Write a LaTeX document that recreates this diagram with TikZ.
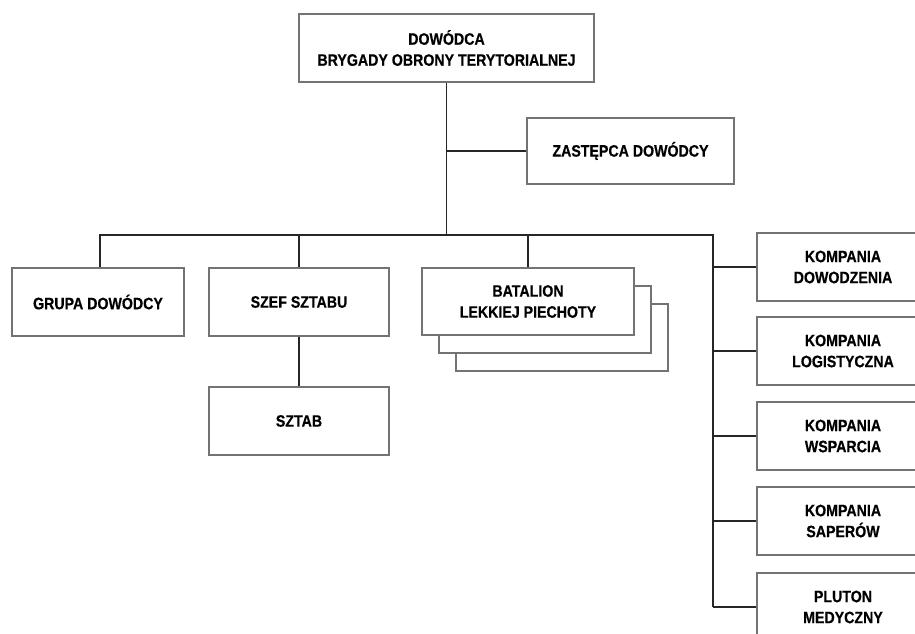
\documentclass[tikz,border=0pt]{standalone}
\usepackage{fontspec}
\setmainfont{Liberation Sans}[FakeStretch=0.86, BoldFeatures={FakeBold=0.5}]
\begin{document}
\begin{tikzpicture}[x=1pt,y=-1pt,
  unit/.style={draw=black!55, line width=1.3pt, fill=white, align=center,
    font=\fontsize{16.5}{21}\selectfont\bfseries, inner sep=0pt,
    minimum height=68, text=black},
  link/.style={draw=black!85, line width=1.6pt}]
\useasboundingbox (0,0) rectangle (915,634);
\clip (0,0) rectangle (915,634);

% command and deputy
\node[unit, minimum width=295] (top) at (446.5,48) {DOWÓDCA\\BRYGADY OBRONY TERYTORIALNEJ};
\node[unit, minimum width=207, minimum height=66] (zast) at (630.5,151) {ZASTĘPCA DOWÓDCY};

% second level
\node[unit, minimum width=172] (grupa) at (98,302) {GRUPA DOWÓDCY};
\node[unit, minimum width=180] (szef) at (299,302) {SZEF SZTABU};
\node[unit, minimum width=180] (sztab) at (299,421) {SZTAB};

% stacked battalions
\node[unit, minimum width=212, minimum height=67] (bat3) at (562,337.5) {};
\node[unit, minimum width=212, minimum height=67] (bat2) at (545,319.5) {};
\node[unit, minimum width=212, minimum height=67] (bat) at (528,301.5) {BATALION\\LEKKIEJ PIECHOTY};

% companies column
\node[unit, minimum width=172] (k1) at (843,267) {KOMPANIA\\DOWODZENIA};
\node[unit, minimum width=172] (k2) at (843,351) {KOMPANIA\\LOGISTYCZNA};
\node[unit, minimum width=172] (k3) at (843,436) {KOMPANIA\\WSPARCIA};
\node[unit, minimum width=172] (k4) at (843,521) {KOMPANIA\\SAPERÓW};
\node[unit, minimum width=172] (k5) at (843,607) {PLUTON\\MEDYCZNY};

% connectors
\coordinate (busR) at (713,235);
\draw[link] (top.south) -- (top.south |- busR);
\draw[link] (zast.west) -- (zast.west -| top.south);
\draw[link] ([xshift=2pt]grupa.north) |- (busR) -- (busR |- k5.west);
\draw[link] (szef.north) -- (szef.north |- busR);
\draw[link] (bat.north) -- (bat.north |- busR);
\draw[link] (szef.south) -- (sztab.north);
\foreach \k in {k1,k2,k3,k4,k5}
  \draw[link] (\k.west) -- (\k.west -| busR);
\end{tikzpicture}
\end{document}
